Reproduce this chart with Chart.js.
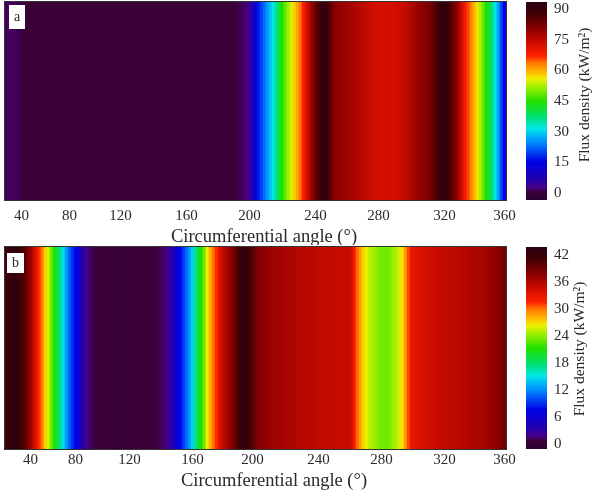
<!DOCTYPE html>
<html><head><meta charset="utf-8">
<script src="https://cdn.jsdelivr.net/npm/chart.js@4"></script>
<style>
html,body{margin:0;padding:0;background:#fff;width:593px;height:490px;overflow:hidden}
canvas{position:absolute;filter:blur(0.6px)}
</style></head><body>
<canvas id="ma" style="left:0;top:0"></canvas>
<canvas id="ca" style="left:520px;top:0"></canvas>
<canvas id="mb" style="left:0;top:240px"></canvas>
<canvas id="cb" style="left:520px;top:240px"></canvas>
<script>
const fluxA=[.8,.8,.8,.8,.6,.4,
0,0,0,0,0,0,0,0,0,0,
0,0,0,0,0,0,0,0,0,0,
0,0,0,0,0,0,0,0,0,0,
0,0,0,0,0,0,0,0,0,0,
0,0,0,0,0,0,0,0,0,0,
0,0,0,0,0,0,0,0,0,0,
0,0,0,0,0,0,0,0,0,0,
0,.3,.6,1,1.5,3,6,12,16,19,
22,25,28,31,35,40,44,48,51,54,
57,60,63,67,71,75,79,83,86,89,
90,88,85,81,79.5,79,78.5,78,77.5,77,
76.5,76,75.5,75,
74,73.5,73,72.5,72,72,72,72,72,72,72.5,73,73.5,74,75,76,
77,78,79,79.5,80,81,83,85,88,90,
91,90,86,83,80,76,72,68,65,62,
59,56,52,48,44,40,36,31,26,20,14];
const fluxB=[41,42,42.5,42.5,42,41,40,38.5,37,35,33,31,29.5,27,25.5,23,21,19,17,14.5,12.5,10.5,9,7.5,6,4,2.5,1.5,1,.7,
.4,0,0,0,0,0,0,0,0,0,0,0,0,0,0,0,0,0,0,
.4,.6,.7,.9,1.1,1.8,3,4.5,6,7.5,
9,10.5,12,14,16.5,19,21,23,26,28,
29.5,31,33,34.5,35.5,36.5,37.5,38.5,40,41.5,
42.5,42,41,40,
39,38,37.5,37.2,37,36.8,36.7,36.5,36.4,36.2,
36.1,36,35.9,35.8,35.6,35.5,35.4,35.3,35.2,35.1,
35,34.9,34.9,34.8,34.8,34.7,34.7,34.6,34.6,34.6,34.6,34.6,
34.2,32,30,28.5,27,26,25,24.5,24,23.5,
23,23,23,23.5,24,24.5,25.5,26.5,28.5,30.5,
32.5,33,
33.2,33.4,33.6,33.8,34,34.2,34.4,34.6,34.7,34.8,
34.9,35,35.1,35.2,35.3,35.4,35.5,35.6,35.7,35.9,
36,36.1,36.2,36.4,36.6,36.9,37.2,37.6,38,38.5];
const tickLabels=['40','80','120','160','200','240','280','320','360'];
const tickColsA=[5,21,38,60,81,103,124,146,166];
const tickColsB=[8,23,41,62,82,104,125,146,166];
const cbTicksA=[0,15,30,45,60,75,90];
const cbTicksB=[0,6,12,18,24,30,36,42];
const xTitle='Circumferential angle (°)';
const cbTitle='Flux density (kW/m²)';
const panelA='a', panelB='b';

const stops=[[0,'#2c0038'],[.025,'#380034'],[.035,'#3a0036'],[.052,'#4a0080'],[.10,'#2000b0'],[.187,'#0000e8'],[.288,'#0090ff'],[.354,'#00e8e8'],[.414,'#00e070'],[.49,'#20e000'],[.565,'#a0f000'],[.606,'#f0f000'],[.646,'#ffb000'],[.69,'#ff7000'],[.72,'#ff2000'],[.79,'#cc0c00'],[.86,'#880000'],[.944,'#3a0005'],[1,'#2a0015']];
const hex=h=>[1,3,5].map(i=>parseInt(h.substr(i,2),16));
function colour(f){
  f=Math.max(0,Math.min(1,f));
  for(let i=1;i<stops.length;i++){
    if(f<=stops[i][0]){
      const t=(f-stops[i-1][0])/(stops[i][0]-stops[i-1][0]),a=hex(stops[i-1][1]),b=hex(stops[i][1]);
      return 'rgb('+a.map((v,k)=>Math.round(v+(b[k]-v)*t)).join(',')+')';
    }
  }
  return stops[stops.length-1][1];
}
const FONT='"Liberation Serif"', INK='#2a2a2a';
Chart.defaults.animation=false;
Chart.defaults.responsive=false;
Chart.defaults.font.family=FONT;
Chart.defaults.color=INK;

function heat(id,w,h,top,axisH,vals,cols,min,max,panel,box,titleX,titleY,tickPad){
  const el=document.getElementById(id);el.width=w;el.height=h;
  const cats=vals.map(()=>'');cols.forEach((c,i)=>cats[c]=tickLabels[i]);
  new Chart(el,{type:'bar',
    data:{labels:cats,datasets:[{data:vals.map(()=>1),backgroundColor:vals.map(v=>colour((v-min)/(max-min))),borderWidth:0,barPercentage:1,categoryPercentage:1}]},
    options:{layout:{padding:{left:5,right:14,top:top,bottom:0}},
      plugins:{legend:{display:false},tooltip:{enabled:false}},
      scales:{
        y:{display:false,min:0,max:1},
        x:{grid:{display:false,drawTicks:false},border:{display:false},afterFit:s=>{s.height=axisH;s.paddingLeft=0;s.paddingRight=0},
           ticks:{autoSkip:false,maxRotation:0,minRotation:0,padding:tickPad,font:{size:15}}}
      }},
    plugins:[{id:'frame',afterDraw(c){
      const a=c.chartArea,x=c.ctx;x.save();
      x.strokeStyle='#333';x.lineWidth=1;x.strokeRect(a.left-.5,a.top-.5,a.right-a.left+1,a.bottom-a.top+1);
      x.fillStyle='#fff';x.fillRect(box[0],box[1],box[2],box[3]);
      x.fillStyle=INK;x.font='14px '+FONT;x.textAlign='center';x.textBaseline='middle';
      x.fillText(panel,box[0]+box[2]/2,box[1]+box[3]/2);
      x.font='18.5px '+FONT;x.fillText(xTitle,titleX,titleY);
      x.restore();
    }}]
  });
}
function bar(id,h,top,plotH,axisMin,axisMax,ticks,step,titleX,titleY){
  const el=document.getElementById(id);el.width=73;el.height=h;
  const ds=[];
  for(let v=axisMin;v<axisMax;v+=step){
    ds.push({data:[[v,Math.min(axisMax,v+step*1.6)]],backgroundColor:colour((v+step/2-axisMin)/(axisMax-axisMin)),borderWidth:0,barPercentage:1,categoryPercentage:1,grouped:false});
  }
  new Chart(el,{type:'bar',data:{labels:[''],datasets:ds},
    options:{layout:{padding:{left:6,right:0,top:top,bottom:h-top-plotH}},
      plugins:{legend:{display:false},tooltip:{enabled:false}},
      scales:{
        x:{display:false},
        y:{position:'right',min:axisMin,max:axisMax,grid:{display:false,drawTicks:false},border:{display:false},
           afterBuildTicks:s=>{s.ticks=ticks.map(v=>({value:v}))},afterFit:s=>{s.width=46;s.paddingTop=0;s.paddingBottom=0},
           ticks:{padding:7,font:{size:15},autoSkip:false}}
      }},
    plugins:[{id:'cbt',afterDraw(c){
      const x=c.ctx;x.save();x.translate(titleX,titleY);x.rotate(-Math.PI/2);
      x.fillStyle=INK;x.font='15.5px '+FONT;x.textAlign='center';x.textBaseline='middle';
      x.fillText(cbTitle,0,0);x.restore();
    }}]
  });
}
heat('ma',520,245,2,45,fluxA,tickColsA,-3.4,93.4,panelA,[9,5,16,24],264,237,7);
bar('ca',245,2,198,-3.4,93.4,cbTicksA,0.8,65,95);
heat('mb',520,250,7,41,fluxB,tickColsB,-1.1,43.8,panelB,[7,13,17,20],274,241,2);
bar('cb',250,7,202,-1.1,43.8,cbTicksB,0.4,60,109);
</script>
</body></html>
